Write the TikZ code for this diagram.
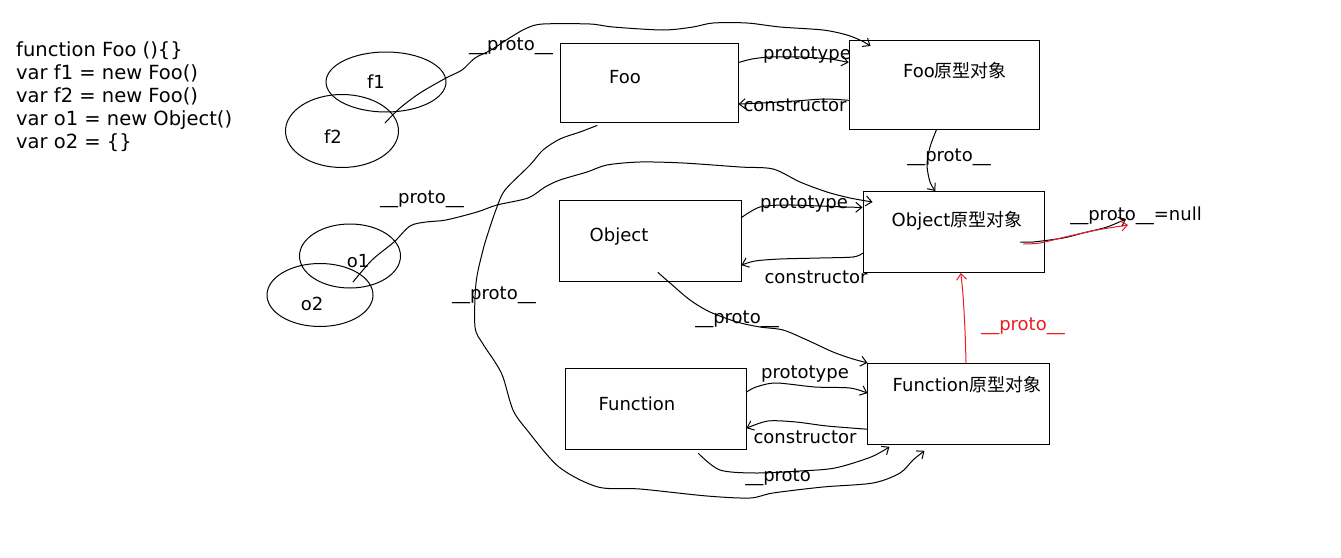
\documentclass[tikz,border=0pt]{standalone}
\usepackage{fontspec}
\setmainfont{DejaVu Sans}
\newfontfamily\cjk{Noto Sans CJK SC}
\usetikzlibrary{arrows.meta,calc,shapes.geometric}
\definecolor{pen}{RGB}{0,0,0}
\definecolor{redpen}{RGB}{237,28,36}
\begin{document}
\begin{tikzpicture}[x=1pt,y=-1pt,
  box/.style={draw=pen,line width=1pt,inner sep=0pt},
  oval/.style={draw=pen,ellipse,line width=1pt,inner sep=0pt},
  lbl/.style={font=\fontsize{18}{22}\selectfont,inner sep=0pt,anchor=base},
  code/.style={font=\fontsize{19.5}{23}\selectfont,inner sep=0pt,anchor=base west},
  conn/.style={draw=pen,line width=1pt,line join=round,line cap=round},
  tip/.style={-{Straight Barb[length=6pt,width=10pt]}},
]
\useasboundingbox (0,0) rectangle (1341,557);
\fill[white] (0,0) rectangle (1341,557);

% source code
\node[code] (c1) at (16,56.7)  {function Foo ()\{\}};
\node[code] (c2) at (16,79.6)  {var f1 = new Foo()};
\node[code] (c3) at (16,102.5) {var f2 = new Foo()};
\node[code] (c4) at (16,125.4) {var o1 = new Object()};
\node[code] (c5) at (16,148.3) {var o2 = \{\}};

% instances
\node[oval,minimum width=120pt,minimum height=60pt] (f1e) at (386,82) {};
\node[oval,minimum width=113pt,minimum height=73pt] (f2e) at (342,131) {};
\node[oval,minimum width=101pt,minimum height=64pt] (o1e) at (350,256) {};
\node[oval,minimum width=106pt,minimum height=63pt] (o2e) at (320,295) {};
\node[lbl] (f1t) at (376,88) {f1};
\node[lbl] (f2t) at (333,143) {f2};
\node[lbl] (o1t) at (358,267) {o1};
\node[lbl] (o2t) at (312,310.5) {o2};

% constructors and prototype objects
\node[box,minimum width=178pt,minimum height=79pt] (foo)  at (649,82.5) {};
\node[box,minimum width=190pt,minimum height=89pt] (fooP) at (944,85) {};
\node[box,minimum width=182pt,minimum height=81pt] (obj)  at (650,240.5) {};
\node[box,minimum width=181pt,minimum height=81pt] (objP) at (953.5,232) {};
\node[box,minimum width=181pt,minimum height=81pt] (fn)   at (655.5,408.5) {};
\node[box,minimum width=181.5pt,minimum height=81pt] (fnP) at (958.7,403.8) {};

\node[lbl] (foot)  at (625,83)  {Foo};
\node[lbl] (fooPt) at (955,77)  {Foo{\cjk 原型对象}};
\node[lbl] (objt)  at (619,241) {Object};
\node[lbl] (objPt) at (957,226) {Object{\cjk 原型对象}};
\node[lbl] (fnt)   at (637,410) {Function};
\node[lbl] (fnPt)  at (967,391) {Function{\cjk 原型对象}};

% attachment points
\coordinate (fIn)    at (385,123);
\coordinate (oIn)    at (353,282);
\coordinate (fooPin) at ($(fooP.north west)+(22,6)$);
\coordinate (fooR1)  at ($(foo.north east)!0.25!(foo.south east)$);
\coordinate (fooPL1) at ($(fooP.north west)!0.25!(fooP.south west)$);
\coordinate (fooPL2) at ($(fooP.north west)!0.67!(fooP.south west)$);
\coordinate (fooR2)  at ($(foo.north east)!0.77!(foo.south east)$);
\coordinate (fooPB)  at ($(fooP.south west)!0.46!(fooP.south east)$);
\coordinate (objPT)  at ($(objP.north west)!0.4!(objP.north east)$);
\coordinate (objPin) at ($(objP.north west)+(10,11)$);
\coordinate (objR1)  at ($(obj.north east)!0.22!(obj.south east)$);
\coordinate (objPL1) at ($(objP.north west)!0.2!(objP.south west)$);
\coordinate (objPL2) at ($(objP.north west)!0.76!(objP.south west)$);
\coordinate (objR2)  at ($(obj.north east)!0.8!(obj.south east)$);
\coordinate (objIn)  at ($(obj.south)+(8,-9)$);
\coordinate (fnR1)   at ($(fn.north east)!0.3!(fn.south east)$);
\coordinate (fnPL1)  at ($(fnP.north west)!0.37!(fnP.south west)$);
\coordinate (fnPL2)  at ($(fnP.north west)!0.81!(fnP.south west)$);
\coordinate (fnR2)   at ($(fn.north east)!0.74!(fn.south east)$);
\coordinate (fnBelow) at ($(fn.south)+(43,4)$);
\coordinate (fnPB1)  at ($(fnP.south west)+(22,2)$);
\coordinate (fooBelow) at ($(foo.south)+(-52,3)$);
\coordinate (fnPB2)  at ($(fnP.south west)+(57,6)$);
\coordinate (fnPT)   at ($(fnP.north west)!0.54!(fnP.north east)$);
\coordinate (objPB)  at ($(objP.south west)!0.54!(objP.south east)$);
\coordinate (objPin2) at ($(objP.south east)+(-24,-31)$);
\coordinate (objPin3) at ($(objP.south east)+(-21,-29)$);
\coordinate (nullEnd)  at (1126,219);
\coordinate (nullEnd2) at (1128,225);

% f1, f2 -> Foo prototype
\draw[conn,tip] plot[smooth,tension=0.5] coordinates {(fIn) (400,108) (420,93) (446,78) (462,70) (475,58) (491,50) (511,37) (527,28) (543,24) (590,24) (613,27) (663,30) (693,27) (713,23) (747,23) (780,27) (823,30) (847,35) (862,41) (fooPin)};
% Foo <-> Foo prototype
\draw[conn,tip] plot[smooth,tension=0.5] coordinates {(fooR1) (752,59) (770,57) (800,57) (830,59) (fooPL1)};
\draw[conn,tip] plot[smooth,tension=0.5] coordinates {(fooPL2) (825,99) (795,101) (762,103) (fooR2)};
% Foo prototype -> Object prototype
\draw[conn,tip] plot[smooth,tension=0.5] coordinates {(fooPB) (930,147) (927,165) (930,182) (objPT)};
% o1, o2 -> Object prototype
\draw[conn,tip] plot[smooth,tension=0.5] coordinates {(oIn) (372,260) (394,242) (410,226) (426,222) (446,220) (477,212) (497,205) (528,198) (545,187) (560,180) (587,172) (607,165) (640,162) (683,163) (740,167) (773,169) (800,182) (827,192) (850,198) (objPin)};
% Object <-> Object prototype
\draw[conn,tip] plot[smooth,tension=0.5] coordinates {(objR1) (760,207) (787,205) (820,206) (845,207) (objPL1)};
\draw[conn,tip] plot[smooth,tension=0.5] coordinates {(objPL2) (853,257) (820,258) (780,259) (755,261) (objR2)};
% Object -> Function prototype
\draw[conn,tip] plot[smooth,tension=0.5] coordinates {(objIn) (670,283) (690,300) (710,312) (737,322) (760,327) (783,330) (807,340) (833,352) (853,359) (fnP.north west)};
% Function <-> Function prototype
\draw[conn,tip] plot[smooth,tension=0.5] coordinates {(fnR1) (756,387) (776,383) (815,387) (850,388) (fnPL1)};
\draw[conn,tip] plot[smooth,tension=0.5] coordinates {(fnPL2) (827,426) (796,422) (768,421) (fnR2)};
% Function -> Function prototype
\draw[conn,tip] plot[smooth,tension=0.5] coordinates {(fnBelow) (720,470) (756,473) (800,471) (835,468) (871,457) (fnPB1)};
% Foo -> Function prototype
\draw[conn,tip] plot[smooth,tension=0.5] coordinates {(fooBelow) (580,132) (560,139) (543,150) (530,165) (505,190) (497,207) (490,227) (483,250) (476,283) (475,327) (483,344) (495,362) (503,377) (513,410) (527,430) (559,467) (598,487) (640,489) (707,496) (750,498) (773,493) (823,487) (873,483) (900,473) (913,460) (fnPB2)};
% Function prototype -> Object prototype (red)
\draw[conn,draw=redpen,tip] plot[smooth,tension=0.5] coordinates {(fnPT) (965,330) (963,295) (objPB)};
% Object prototype -> null
\draw[conn,tip] plot[smooth,tension=0.5] coordinates {(objPin2) (1033,242) (1063,238) (1083,233) (1107,227) (nullEnd)};
\draw[conn,draw=redpen,tip] plot[smooth,tension=0.5] coordinates {(objPin3) (1040,243) (1065,237) (1097,230) (nullEnd2)};

% link labels
\node[lbl] (lp1)  at (511,50)  {\_\_proto\_\_};
\node[lbl] (lpt1) at (807,59)  {prototype};
\node[lbl] (lc1)  at (795,111) {constructor};
\node[lbl] (lp2)  at (949,161) {\_\_proto\_\_};
\node[lbl] (lp3)  at (422,203.5) {\_\_proto\_\_};
\node[lbl] (lpt2) at (804,208) {prototype};
\node[lbl] (lc2)  at (816,283) {constructor};
\node[lbl] (lp4)  at (737,323) {\_\_proto\_\_};
\node[lbl] (lp5)  at (494,299) {\_\_proto\_\_};
\node[lbl] (lpt3) at (805,378) {prototype};
\node[lbl] (lc3)  at (805,443) {constructor};
\node[lbl] (lp6)  at (778,481) {\_\_proto};
\node[lbl,text=redpen] (lp7) at (1023,330) {\_\_proto\_\_};
\node[lbl] (lnull) at (1136,220) {\_\_proto\_\_=null};
\end{tikzpicture}
\end{document}
